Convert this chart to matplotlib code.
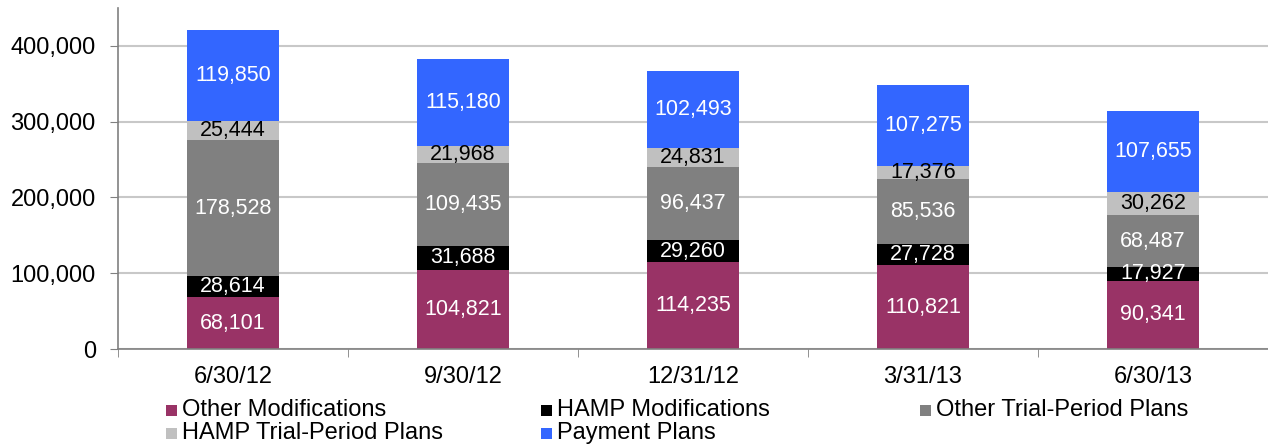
import matplotlib
matplotlib.use("Agg")
import matplotlib.pyplot as plt
from matplotlib.patches import Rectangle
from matplotlib.ticker import FuncFormatter, FixedLocator
import numpy as np

plt.rcParams['font.family'] = ['Liberation Sans', 'DejaVu Sans']

categories = ["6/30/12", "9/30/12", "12/31/12", "3/31/13", "6/30/13"]
series_names = ["Other Modifications", "HAMP Modifications", "Other Trial-Period Plans",
                "HAMP Trial-Period Plans", "Payment Plans"]
other_mods = [68101, 104821, 114235, 110821, 90341]
hamp_mods = [28614, 31688, 29260, 27728, 17927]
other_trial = [178528, 109435, 96437, 85536, 68487]
hamp_trial = [25444, 21968, 24831, 17376, 30262]
payment = [119850, 115180, 102493, 107275, 107655]
series = [other_mods, hamp_mods, other_trial, hamp_trial, payment]
colors = ["#993366", "#000000", "#808080", "#C0C0C0", "#3366FF"]
label_colors = ["white", "white", "white", "black", "white"]

W, H = 1268, 444
fig = plt.figure(figsize=(W / 100, H / 100), dpi=100)
ax = fig.add_axes([118 / W, 1 - 349 / H, 1150 / W, (349 - 8) / H])

x = np.arange(len(categories))
bottom = np.zeros(len(categories))
for vals, c, lc in zip(series, colors, label_colors):
    v = np.array(vals, dtype=float)
    bars = ax.bar(x, v, 0.4, bottom=bottom, color=c, zorder=3)
    ax.bar_label(bars, labels=[f"{int(t):,}" for t in v], label_type='center',
                 color=lc, fontsize=15.5, zorder=4)
    bottom += v

ax.set_xlim(-0.5, len(categories) - 0.5)
ax.set_ylim(0, 450000)
ax.set_yticks([0, 100000, 200000, 300000, 400000])
ax.yaxis.set_major_formatter(FuncFormatter(lambda v, p: f"{int(v):,}"))
ax.set_xticks(x)
ax.set_xticklabels(categories)
ax.xaxis.set_minor_locator(FixedLocator(np.arange(-0.5, len(categories) + 0.5, 1)))
ax.tick_params(axis='x', which='major', length=0, pad=12, labelsize=17)
ax.tick_params(axis='x', which='minor', length=6, color="#808080", direction='out')
ax.tick_params(axis='y', length=6, color="#808080", direction='out', labelsize=17, pad=10)
ax.grid(axis='y', color="#C8C8C8", linewidth=1.5, zorder=0)
for s in ['top', 'right']:
    ax.spines[s].set_visible(False)
for s in ['left', 'bottom']:
    ax.spines[s].set_color("#808080")
    ax.spines[s].set_linewidth(1.2)
ax.spines['bottom'].set_zorder(5)

# legend (row-wise layout, three columns)
col_x = [166, 541, 920]
row_y = [410, 433]
for i, (name, c) in enumerate(zip(series_names, colors)):
    r, col = divmod(i, 3)
    px, py = col_x[col], row_y[r]
    fig.patches.append(Rectangle((px / W, 1 - (py + 5.5) / H), 11 / W, 11 / H,
                                 transform=fig.transFigure, facecolor=c, edgecolor='none'))
    fig.text((px + 16) / W, 1 - py / H, name, fontsize=17, va='center', ha='left')

fig.savefig("out.png", dpi=100)
